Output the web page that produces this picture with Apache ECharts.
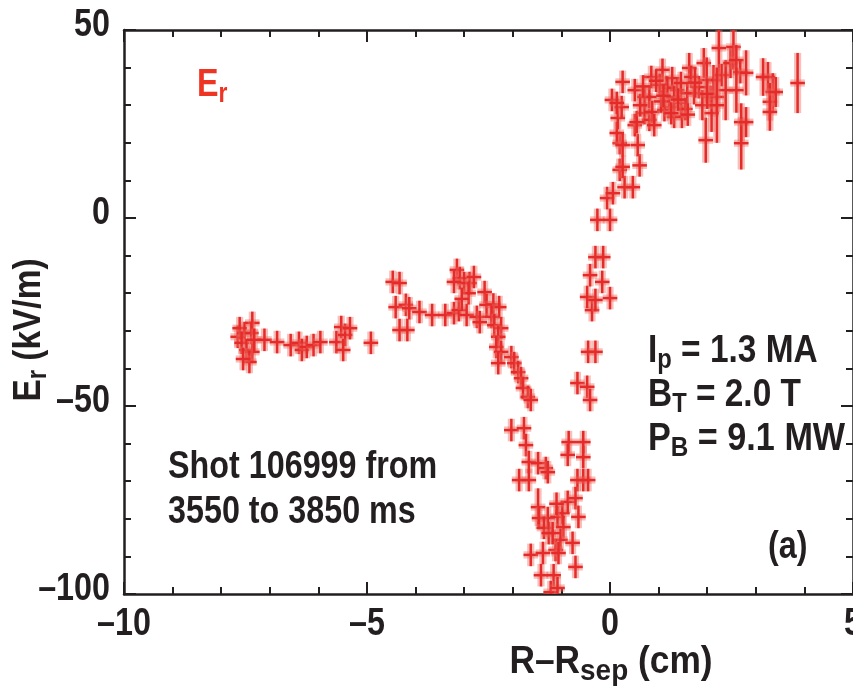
<!DOCTYPE html>
<html>
<head>
<meta charset="utf-8">
<script src="https://cdn.jsdelivr.net/npm/echarts@6/dist/echarts.min.js"></script>
<style>
  html, body { margin: 0; padding: 0; background: #fff; }
  #chart { width: 853px; height: 695px; }
</style>
</head>
<body>
<div id="chart"></div>
<script>
// Radial electric field profile across the separatrix.
// Positions R - R_sep in cm, field E_r in kV/m, with vertical uncertainties.

const rPos = [
  // outer flat region
  -7.66, -7.62, -7.52, -7.36, -7.38, -7.58, -7.48, -7.36, -7.42, -7.32, -7.55,
  -7.11, -6.85, -6.57, -6.40, -6.34, -6.24, -6.10, -5.96, -5.63, -5.53, -5.45, -5.49, -5.35, -4.92,
  // hump
  -4.47, -4.33, -4.41, -4.20, -4.13, -4.33, -4.17, -3.92, -3.66, -3.39, -3.21, -3.11, -2.95,
  -3.15, -3.09, -3.00, -2.89, -2.91, -2.80, -3.21, -3.05,
  -2.58, -2.54, -2.40, -2.28, -2.74, -2.68, -2.44, -2.38, -2.24, -2.30, -2.34, -2.24, -2.30, -2.03, -1.97, -1.89, -1.83, -1.79, -1.69, -1.63,
  // well
  -2.03, -1.77, -1.73, -1.67, -1.48, -1.32, -1.28, -1.87, -1.67,
  -0.85, -0.55, -0.87, -0.55, -0.67, -0.55, -0.45,
  -1.48, -1.46, -1.28, -1.36, -1.26, -1.08, -0.98, -0.87, -0.71, -0.65, -0.96, -1.02, -1.12, -0.77, -1.63, -1.38, -1.06, -1.42, -1.16, -0.71, -1.22, -1.08, -1.18, -1.10,
  // rise through the separatrix
  -0.67, -0.47, -0.41, -0.45, -0.30, -0.37, -0.47, -0.30, 0.00, -0.41,
  -0.16, -0.30, -0.14, -0.26, 0.00, -0.06, 0.06, 0.30, 0.47, 0.20,
  0.26, 0.61, 0.20, 0.14, 0.26, 0.57, 0.16, 0.04, 0.24, 0.26,
  0.51, 0.51, 0.71, 0.71, 0.85, 0.81, 0.14, 0.55,
  // scrape-off layer plateau
  0.81, 0.87, 1.08, 1.16, 1.28, 1.22, 1.38, 1.46, 1.32, 1.48,
  1.63, 1.67, 1.59, 1.73, 1.93, 1.99, 1.83, 1.97, 2.07, 2.09,
  2.24, 2.13, 2.20, 2.30, 2.38, 2.48, 2.54, 2.60, 2.68, 2.80,
  2.70, 2.70, 2.80, 2.60, 3.25, 3.15, 3.35, 3.29, 3.29, 3.41,
  3.86, 1.18, 1.32, 1.46, 1.02, 1.12, 1.26, 0.91, 1.05, 1.55,
  1.90, 2.00, 2.20, 0.62, 0.95, 1.40, 1.75, 1.10, 0.68, 1.60
];

const erVal = [
  -31.6, -29.3, -30.6, -27.9, -30.6, -33.2, -35.1, -35.6, -38.3, -32.4, -37.5,
  -32.4, -33.0, -33.8, -33.2, -35.1, -34.3, -33.8, -33.0, -33.0, -29.0, -31.1, -35.1, -29.3, -33.2,
  -17.0, -17.3, -23.7, -23.1, -24.0, -29.8, -29.8, -25.0, -25.8, -25.8, -25.3, -24.5, -25.8,
  -13.8, -16.0, -17.3, -17.3, -20.0, -15.7, -17.0, -21.5,
  -19.7, -23.1, -23.0, -23.7, -26.3, -27.7, -26.3, -28.5, -29.3, -31.6, -34.3, -35.6, -38.6, -37.0, -38.6, -41.0, -42.6, -45.2, -47.6, -48.4,
  -56.4, -55.9, -60.4, -64.9, -65.2, -66.5, -67.6, -69.7, -69.7,
  -59.6, -59.6, -63.0, -63.6, -69.7, -69.7, -69.7,
  -76.9, -79.8, -79.8, -82.4, -83.8, -79.5, -78.5, -75.5, -74.5, -79.5, -82.2, -85.6, -88.3, -86.4, -89.6, -89.1, -89.1, -95.0, -95.0, -92.8, -99.5, -98.4, -83.8, -76.0,
  -43.9, -44.9, -48.4, -35.6, -35.6, -24.5, -21.0, -21.8, -21.3, -15.2,
  -17.0, -10.4, -10.4, -0.5, -0.5, 5.3, 6.6, 8.2, 8.2, 12.8,
  13.6, 14.0, 19.9, 22.6, 19.4, 19.4, 26.6, 31.4, 29.5, 36.2,
  34.0, 24.7, 32.2, 27.9, 37.5, 26.1, 30.6, 25.5,
  32.2, 28.2, 39.4, 34.8, 37.2, 29.5, 34.0, 30.6, 26.9, 26.9,
  39.9, 37.5, 33.2, 33.2, 41.2, 36.7, 34.8, 20.7, 32.2, 27.9,
  45.2, 36.7, 32.2, 38.0, 34.0, 41.2, 45.5, 42.0, 38.8, 38.6,
  25.5, 19.9, 25.5, 34.0, 37.5, 37.5, 33.5, 30.9, 28.2, 33.5,
  35.9, 34.6, 32.2, 35.9, 35.4, 28.7, 27.9, 24.7, 31.0, 29.0,
  30.0, 33.0, 30.0, 30.0, 36.5, 31.5, 36.0, 32.5, 35.0, 27.5
];

// vertical half-widths of the error bars (kV/m)
const erErr = [
  3, 3, 3, 3, 3, 3, 3, 3, 3, 3, 3,
  3, 3, 3, 3, 3, 3, 3, 3, 3, 3, 3, 3, 3, 3,
  3, 3, 3, 3, 3, 3, 3, 3, 3, 3, 3, 3, 3,
  3, 3, 3, 3, 3, 3, 3, 3,
  3, 3, 3, 3, 3, 3, 3, 3, 3, 3, 3, 3, 3, 3, 3, 3, 3, 3, 3, 3,
  3, 3, 3, 3, 3, 3, 3, 3, 3,
  3, 3, 3, 3, 3, 3, 3,
  5, 3, 3, 3, 3, 3, 3, 3, 3, 3, 3, 3, 3, 3, 3, 3, 3, 3, 3, 3, 3, 3, 3, 3,
  3, 3, 3, 3, 3, 3, 3, 3, 3, 3,
  3, 3, 3, 3, 3, 3, 3, 3, 3, 3,
  3, 3, 3, 3, 3, 3, 3, 3, 3, 3,
  3, 3, 3, 3, 3, 3, 3, 3,
  3, 3, 3, 3, 3, 3, 3, 3, 3, 3,
  4, 3, 3, 3, 4, 6, 3, 6, 3, 5,
  9, 4, 4, 3, 8, 4, 6, 4, 3, 6,
  5, 7, 4, 6, 4, 5, 5, 5, 5, 4,
  8, 3, 3, 3, 3, 3, 3, 3, 3, 3,
  4, 4, 10, 3, 3, 3, 4, 3, 3, 3
];

// horizontal half-width of the error bars (cm)
const R_ERR = 0.15;

const xTickValues = [-10, -5, 0, 5];
const yTickValues = [-100, -50, 0, 50];
const xRange = { min: -10, max: 5, step: 5 };
const yRange = { min: -100, max: 50, step: 50 };

const FAMILY = '"Liberation Sans", Arial, Helvetica, sans-serif';
const INK = '#231f20';
const RED = '#ee3524';
const SQUEEZE = 0.85;   // horizontal condensing of all lettering

const points = rPos.map((r, i) => [r, erVal[i], R_ERR, erErr[i]]);

// text measurement for laying out labels with subscripts
const measureCtx = document.createElement('canvas').getContext('2d');
function textWidth(t, size) {
  measureCtx.font = 'bold ' + size + 'px ' + FAMILY;
  return measureCtx.measureText(t).width;
}

// Sequence of text pieces (normal + subscript) laid out from local x = 0.
function pieces(parts, color) {
  let x = 0;
  const out = [];
  parts.forEach(p => {
    out.push({
      type: 'text',
      x: x,
      y: p.dy || 0,
      style: {
        text: p.t,
        font: 'bold ' + p.size + 'px ' + FAMILY,
        fill: color,
        align: 'left',
        verticalAlign: 'middle'
      }
    });
    x += textWidth(p.t, p.size);
  });
  return { children: out, width: x };
}

function textGroup(parts, x, y, opts) {
  opts = opts || {};
  const p = pieces(parts, opts.color || INK);
  let shift = 0;
  if (opts.anchor === 'center') shift = -p.width / 2;
  else if (opts.anchor === 'right') shift = -p.width;
  p.children.forEach(c => { c.x += shift; });
  return {
    type: 'group',
    x: x,
    y: y,
    rotation: opts.rotation || 0,
    scaleX: opts.squeeze || SQUEEZE,
    silent: true,
    children: p.children
  };
}

const BIG = 38, SUB = 27, SUBDY = 9;

const annotations = [
  textGroup([{ t: 'E', size: BIG }, { t: 'r', size: SUB, dy: SUBDY }], 197, 86, { color: RED }),
  textGroup([{ t: 'E', size: BIG }, { t: 'r', size: SUB, dy: SUBDY }, { t: ' (kV/m)', size: BIG }], 30, 330, { anchor: 'center', rotation: Math.PI / 2, squeeze: 0.88 }),
  textGroup([{ t: 'R–R', size: BIG }, { t: 'sep', size: 30, dy: SUBDY }, { t: ' (cm)', size: BIG }], 611, 663, { anchor: 'center', squeeze: 0.93 }),
  textGroup([{ t: 'Shot 106999 from', size: BIG }], 168, 468),
  textGroup([{ t: '3550 to 3850 ms', size: BIG }], 168, 513),
  textGroup([{ t: 'I', size: BIG }, { t: 'p', size: SUB, dy: SUBDY }, { t: ' = 1.3 MA', size: BIG }], 648, 352, { squeeze: 0.88 }),
  textGroup([{ t: 'B', size: BIG }, { t: 'T', size: SUB, dy: SUBDY }, { t: ' = 2.0 T', size: BIG }], 648, 396, { squeeze: 0.88 }),
  textGroup([{ t: 'P', size: BIG }, { t: 'B', size: SUB, dy: SUBDY }, { t: ' = 9.1 MW', size: BIG }], 648, 440, { squeeze: 0.9 }),
  textGroup([{ t: '(a)', size: BIG }], 768, 548)
];

function dashMinus(v) { return String(v).replace('-', '–'); }

const axisLine = { show: true, onZero: false, lineStyle: { color: INK, width: 2.5 } };
const majorTick = { show: true, inside: true, length: 12, lineStyle: { color: INK, width: 2 } };
const minorTick = { show: true, splitNumber: 5, length: 7, lineStyle: { color: INK, width: 2 } };

function renderCross(params, api) {
  const x = api.value(0), y = api.value(1), ex = api.value(2), ey = api.value(3);
  const c = api.coord([x, y]);
  const l = api.coord([x - ex, y]);
  const r = api.coord([x + ex, y]);
  const t = api.coord([x, y + ey]);
  const b = api.coord([x, y - ey]);
  const halo = 'rgba(236, 105, 92, 0.42)';
  const core = '#e62a2a';
  const hw = 3.6;
  return {
    type: 'group',
    children: [
      { type: 'rect', shape: { x: l[0], y: c[1] - hw, width: r[0] - l[0], height: hw * 2 }, style: { fill: halo } },
      { type: 'rect', shape: { x: c[0] - hw, y: t[1], width: hw * 2, height: b[1] - t[1] }, style: { fill: halo } },
      { type: 'line', shape: { x1: l[0], y1: c[1], x2: r[0], y2: c[1] }, style: { stroke: core, lineWidth: 2.5 } },
      { type: 'line', shape: { x1: c[0], y1: t[1], x2: c[0], y2: b[1] }, style: { stroke: core, lineWidth: 2.5 } }
    ]
  };
}

function valueAxis(position, range, extra) {
  return Object.assign({
    type: 'value', position: position,
    min: range.min, max: range.max, interval: range.step,
    axisLine: axisLine, axisTick: majorTick, minorTick: minorTick,
    axisLabel: { show: false },
    splitLine: { show: false }, minorSplitLine: { show: false }
  }, extra || {});
}

const chart = echarts.init(document.getElementById('chart'), null, { renderer: 'canvas' });
chart.setOption({
  animation: false,
  backgroundColor: '#fff',
  grid: { left: 124, top: 30, width: 737, height: 564, containLabel: false },
  xAxis: [valueAxis('bottom', xRange), valueAxis('top', xRange)],
  yAxis: [valueAxis('left', yRange), valueAxis('right', yRange)],
  series: [
    {
      type: 'custom',
      xAxisIndex: 0,
      yAxisIndex: 0,
      clip: true,
      renderItem: renderCross,
      encode: { x: 0, y: 1 },
      data: points,
      silent: true
    }
  ]
});

// Tick labels, placed at the axis positions the chart reports.
const gridRect = chart.getModel().getComponent('grid', 0).coordinateSystem.getRect();
const tickLabels = [];
xTickValues.forEach(v => {
  const px = chart.convertToPixel({ xAxisIndex: 0 }, v);
  tickLabels.push(textGroup([{ t: dashMinus(v), size: BIG }], px, gridRect.y + gridRect.height + 31, { anchor: 'center' }));
});
yTickValues.forEach(v => {
  const py = chart.convertToPixel({ yAxisIndex: 0 }, v);
  tickLabels.push(textGroup([{ t: dashMinus(v), size: BIG }], gridRect.x - 14, py - 4, { anchor: 'right' }));
});

chart.setOption({ graphic: annotations.concat(tickLabels) });
</script>
</body>
</html>
